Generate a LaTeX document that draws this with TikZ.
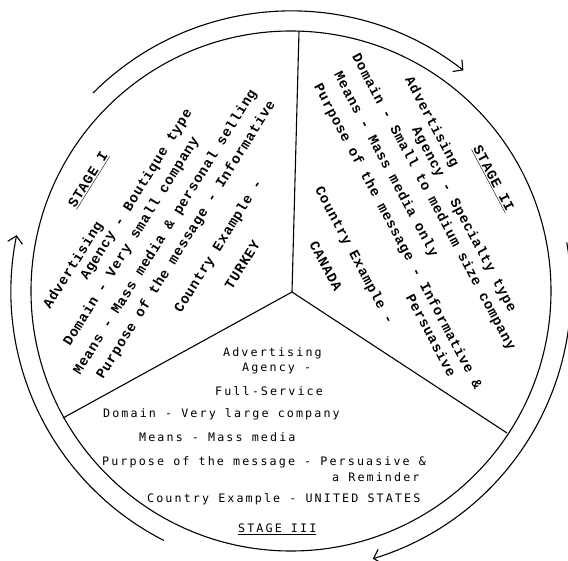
\documentclass[tikz,border=0pt]{standalone}
\usepackage{fontspec}
\setmonofont{Liberation Mono}
\newfontfamily\twfont[LetterSpace=5.4]{Liberation Mono}
\newfontfamily\lgfont[LetterSpace=18]{DejaVu Sans Mono}
\usetikzlibrary{arrows.meta}
\begin{document}
\begin{tikzpicture}[x=1pt,y=1pt,
  ring/.style={line width=1.1pt},
  spoke/.style={line width=1.1pt},
  cyc/.style={line width=1.1pt,-{Straight Barb[length=7pt,width=15pt,line width=1.1pt]}},
  lbl/.style={font=\fontsize{14}{17}\selectfont\twfont\bfseries, inner sep=0pt, anchor=west},
  sone/.style={lbl, rotate=58},
  stwo/.style={lbl, rotate=-62},
  sthree/.style={font=\fontsize{11.7}{14}\selectfont\lgfont, inner sep=0pt, anchor=west}]
\useasboundingbox (0,0) rectangle (568,-561);
% inner circle
\coordinate (c) at (291,-291);
\draw[ring] (c) circle[radius=260];
% spokes
\coordinate (o) at (292,-292);
\coordinate (p1) at (299,-31);
\coordinate (p2) at (63,-418);
\coordinate (p3) at (507,-433);
\draw[spoke] (o) -- (p1);
\draw[spoke] (o) -- (p2);
\draw[spoke] (o) -- (p3);
% cycle arrows
\coordinate (a1) at ([shift={(135:280)}]c);
\coordinate (a2) at ([shift={(10:280)}]c);
\coordinate (a3) at ([shift={(243:280)}]c);
\draw[cyc] (a1) arc[start angle=135,end angle=52,radius=280];
\draw[cyc] (a2) arc[start angle=10,end angle=-73,radius=280];
\draw[cyc] (a3) arc[start angle=243,end angle=168.5,radius=280];
% Stage I
\node[sone] (t1a) at (72,-207) {\underline{STAGE I}};
\node[sone] (t1b) at (47,-308) {Advertising};
\node[sone] (t1c) at (84,-279) {Agency - Boutique type};
\node[sone] (t1d) at (67,-345) {Domain - Very small company};
\node[sone] (t1e) at (77,-374) {Means - Mass media \& personal selling};
\node[sone] (t1f) at (100,-378) {Purpose of the message - Informative};
\node[sone] (t1g) at (178,-312) {Country Example -};
\node[sone] (t1h) at (228,-288) {TURKEY};
% Stage II
\node[stwo] (t2a) at (476,-147) {\underline{STAGE II}};
\node[stwo] (t2b) at (408,-78) {Advertising};
\node[stwo] (t2c) at (415,-128) {Agency - Specialty type};
\node[stwo] (t2d) at (355,-55) {Domain - Small to medium size company};
\node[stwo] (t2e) at (337,-73) {Means - Mass media only};
\node[stwo] (t2f) at (317,-85) {Purpose of the message - Informative \&};
\node[stwo] (t2g) at (410,-295) {Persuasive};
\node[stwo] (t2h) at (318,-188) {Country Example -};
\node[stwo] (t2i) at (313,-242) {CANADA};
% Stage III
\node[sthree] (t3a) at (223,-353) {Advertising};
\node[sthree] (t3b) at (242,-368) {Agency -};
\node[sthree] (t3c) at (215,-391) {Full-Service};
\node[sthree] (t3d) at (103,-414) {Domain - Very large company};
\node[sthree] (t3e) at (139,-437) {Means - Mass media};
\node[sthree] (t3f) at (102,-462) {Purpose of the message - Persuasive \&};
\node[sthree] (t3g) at (332,-477) {a Reminder};
\node[sthree] (t3h) at (147,-499) {Country Example - UNITED STATES};
\node[sthree] (t3i) at (238,-529) {\underline{STAGE III}};
\end{tikzpicture}
\end{document}
